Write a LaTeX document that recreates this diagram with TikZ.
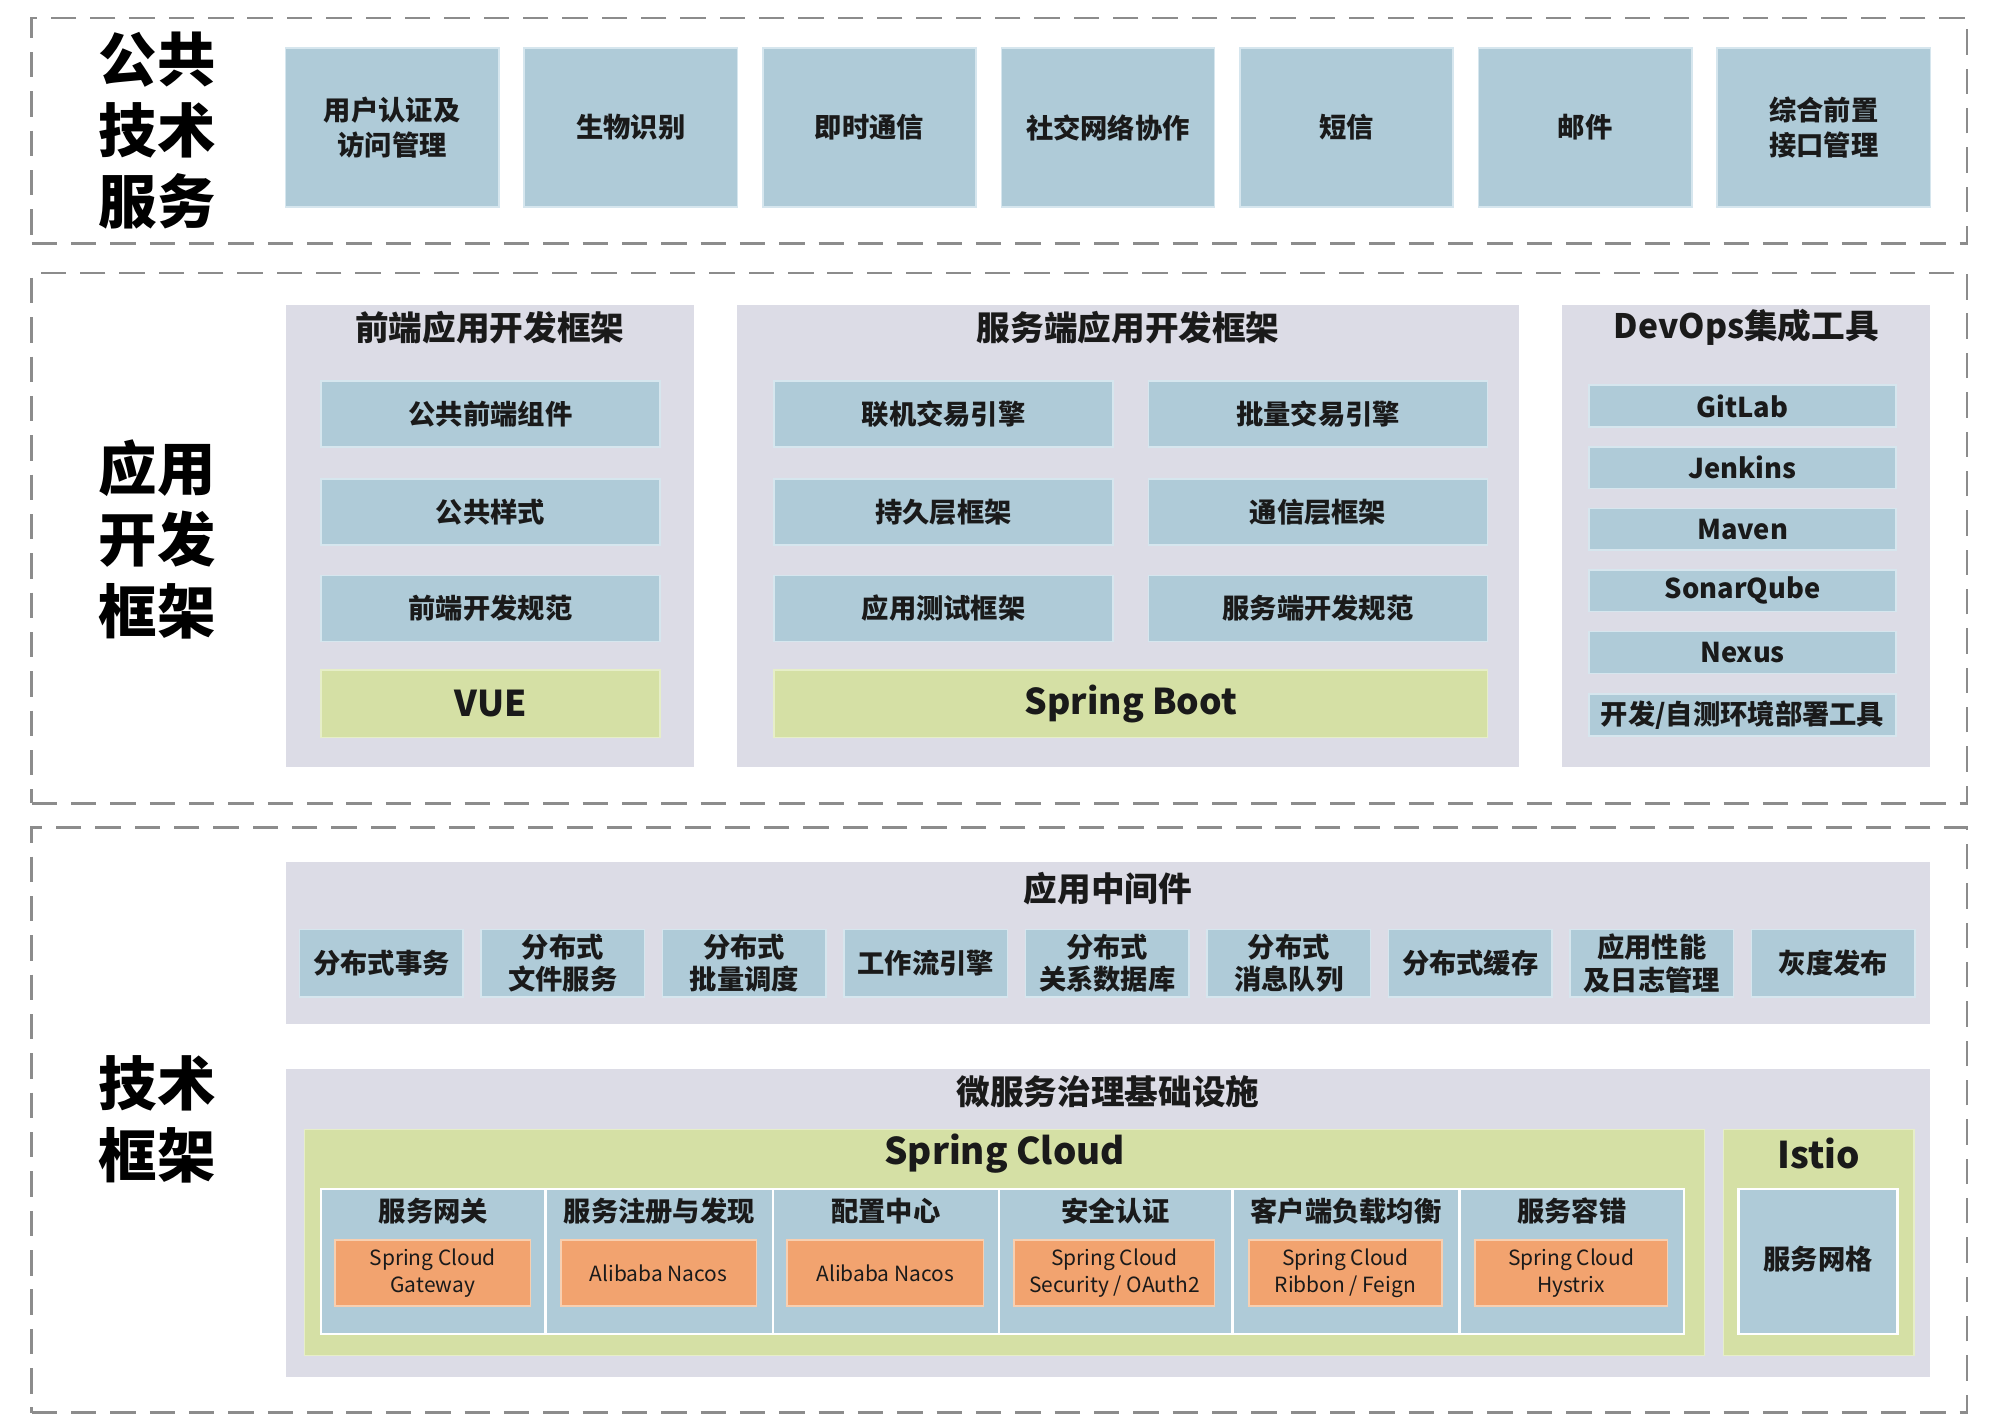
\documentclass[tikz,border=0pt]{standalone}
\usepackage{fontspec}
\setmainfont{Noto Sans CJK SC}
\definecolor{framegray}{HTML}{8C8C8C}
\definecolor{panelgray}{HTML}{DCDCE6}
\definecolor{boxblue}{HTML}{AFCBD8}
\definecolor{boxedge}{HTML}{D6E6EE}
\definecolor{boxgreen}{HTML}{D5E0A5}
\definecolor{greenedge}{HTML}{E6EEC8}
\definecolor{boxorange}{HTML}{F2A36F}
\definecolor{orangeedge}{HTML}{F8CFB0}
\definecolor{txt}{HTML}{1A1A1A}
\begin{document}
\begin{tikzpicture}[x=1pt,y=-1pt,
  frame/.style={draw=framegray, line width=2pt, dash pattern=on 20pt off 11pt, inner sep=0pt},
  panel/.style={fill=panelgray, draw=none, inner sep=0pt},
  bluebox/.style={fill=boxblue, draw=boxedge, line width=1.2pt, inner sep=0pt, text=txt, align=center, font=\fontsize{21.5}{27}\selectfont\bfseries},
  greenbox/.style={fill=boxgreen, draw=greenedge, line width=1.2pt, inner sep=0pt, text=txt, align=center},
  orangebox/.style={fill=boxorange, draw=orangeedge, line width=1.2pt, inner sep=0pt, text=txt, align=center, font=\fontsize{16.5}{21}\selectfont},
  colbox/.style={fill=boxblue, draw=white, line width=2pt, inner sep=0pt},
  bigtitle/.style={text=black, align=center, font=\fontsize{46}{56}\selectfont\bfseries},
  ptitle/.style={text=txt, font=\fontsize{26.5}{32}\selectfont\bfseries},
  label/.style={text=txt, font=\fontsize{21.5}{27}\selectfont\bfseries},
  lat/.style={text=txt, font=\fontsize{29}{34}\selectfont\bfseries}
]
\useasboundingbox[fill=white] (0,0) rectangle (1568,1117);

% ---------- frames ----------
\node[frame, minimum width=1525pt, minimum height=178pt] (f1) at (787.5,103) {};
\node[frame, minimum width=1525pt, minimum height=418pt] (f2) at (787.5,424) {};
\node[frame, minimum width=1525pt, minimum height=461pt] (f3) at (787.5,882.5) {};

% ---------- left titles ----------
\node[bigtitle] (t1) at (124,103) {公共\\技术\\服务};
\node[bigtitle] (t2) at (124,425) {应用\\开发\\框架};
\node[bigtitle] (t3) at (124,882) {技术\\框架};

% ---------- row 1 ----------
\foreach \i/\t/\n in {0/{用户认证及\\访问管理}/a,1/生物识别/b,2/即时通信/c,3/社交网络协作/d,4/短信/e,5/邮件/f,6/{综合前置\\接口管理}/g}
  \node[bluebox, minimum width=168pt, minimum height=125pt] (r1\n) at (309+\i*188,100.5) {\t};

% ---------- section 2 panels ----------
\node[panel, minimum width=322pt, minimum height=364pt] (pa) at (386,422) {};
\node[panel, minimum width=616pt, minimum height=364pt] (pb) at (889,422) {};
\node[panel, minimum width=290pt, minimum height=364pt] (pc) at (1376,422) {};
\node[ptitle] (pat) at (386,258) {前端应用开发框架};
\node[ptitle] (pbt) at (889,258) {服务端应用开发框架};
\node[ptitle] (pct) at (1376,258) {DevOps集成工具};

% front-end
\node[bluebox, minimum width=267pt, minimum height=52pt] (a1) at (386.5,326) {公共前端组件};
\node[bluebox, minimum width=267pt, minimum height=52pt] (a2) at (386.5,403.5) {公共样式};
\node[bluebox, minimum width=267pt, minimum height=52pt] (a3) at (386.5,479.5) {前端开发规范};
\node[greenbox, minimum width=267pt, minimum height=53pt, font=\fontsize{28}{34}\selectfont\bfseries] (a4) at (386.5,554.5) {VUE};

% server-side
\node[bluebox, minimum width=267pt, minimum height=52pt] (b1) at (743.5,326) {联机交易引擎};
\node[bluebox, minimum width=267pt, minimum height=52pt] (b2) at (1038.5,326) {批量交易引擎};
\node[bluebox, minimum width=267pt, minimum height=52pt] (b3) at (743.5,403.5) {持久层框架};
\node[bluebox, minimum width=267pt, minimum height=52pt] (b4) at (1038.5,403.5) {通信层框架};
\node[bluebox, minimum width=267pt, minimum height=52pt] (b5) at (743.5,479.5) {应用测试框架};
\node[bluebox, minimum width=267pt, minimum height=52pt] (b6) at (1038.5,479.5) {服务端开发规范};
\node[greenbox, minimum width=562pt, minimum height=53pt, font=\fontsize{28}{34}\selectfont\bfseries] (b7) at (891,554.5) {Spring Boot};

% devops
\foreach \y/\t/\n in {320/GitLab/1,368.5/Jenkins/2,417/Maven/3,465.5/SonarQube/4,514/Nexus/5,563.5/{开发/自测环境部署工具}/6}
  \node[bluebox, minimum width=242pt, minimum height=33pt] (c\n) at (1373,\y) {\t};

% ---------- section 3: middleware ----------
\node[panel, minimum width=1296pt, minimum height=127pt] (pm) at (873,743) {};
\node[ptitle] (pmt) at (873,700) {应用中间件};
\foreach \i/\t/\n in {0/分布式事务/1,1/{分布式\\文件服务}/2,2/{分布式\\批量调度}/3,3/工作流引擎/4,4/{分布式\\关系数据库}/5,5/{分布式\\消息队列}/6,6/分布式缓存/7,7/{应用性能\\及日志管理}/8,8/灰度发布/9}
  \node[bluebox, minimum width=129pt, minimum height=53pt, font=\fontsize{21.5}{25.5}\selectfont\bfseries] (m\n) at (300.5+\i*143,759) {\t};

% ---------- section 3: micro-service governance ----------
\node[panel, minimum width=1296pt, minimum height=243pt] (pg) at (873,963.5) {};
\node[ptitle] (pgt) at (873,860) {微服务治理基础设施};
\node[greenbox, minimum width=1103pt, minimum height=178pt] (sc) at (791.5,979) {};
\node[lat] (sct) at (791.5,909) {Spring Cloud};
\node[greenbox, minimum width=150pt, minimum height=178pt] (is) at (1433,979) {};
\node[lat] (ist) at (1433,909) {Istio};
\node[colbox, minimum width=125pt, minimum height=114pt] (isb) at (1432.5,994) {};
\node[label] (isl) at (1432.5,992) {服务网格};

\foreach \cx/\w/\ox/\ow/\h/\t/\n in {
  341.5/177/341/154/服务网关/{Spring Cloud\\Gateway}/1,
  519.5/179/519/154/服务注册与发现/{Alibaba Nacos}/2,
  698/178/697.5/155/配置中心/{Alibaba Nacos}/3,
  879/184/878/158/安全认证/{Spring Cloud\\Security / OAuth2}/4,
  1060.5/179/1060/152/客户端负载均衡/{Spring Cloud\\Ribbon / Feign}/5,
  1238.5/177/1238/152/服务容错/{Spring Cloud\\Hystrix}/6}
{
  \node[colbox, minimum width=\w pt, minimum height=114pt] (col\n) at (\cx,994) {};
  \node[label] (coll\n) at (\cx,954) {\h};
  \node[orangebox, minimum width=\ow pt, minimum height=52pt] (o\n) at (\ox,1003) {\t};
}
\end{tikzpicture}
\end{document}
